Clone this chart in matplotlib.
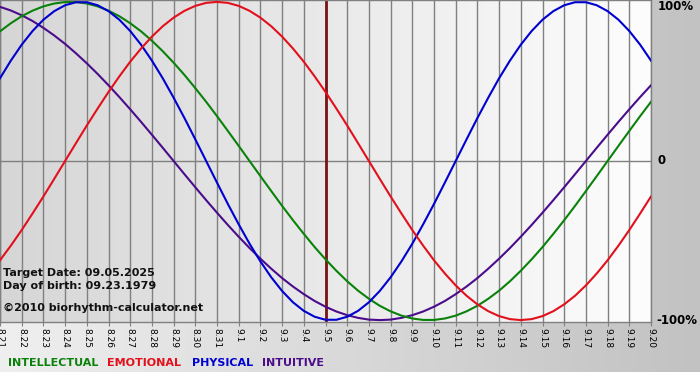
import numpy as np
import matplotlib
matplotlib.use("Agg")
import matplotlib.pyplot as plt
from matplotlib.colors import LinearSegmentedColormap

# Dates shown on the x axis (8.21 .. 9.20), target day is 9.5
dates = ['8.21', '8.22', '8.23', '8.24', '8.25', '8.26', '8.27', '8.28', '8.29', '8.30', '8.31',
         '9.1', '9.2', '9.3', '9.4', '9.5', '9.6', '9.7', '9.8', '9.9', '9.10',
         '9.11', '9.12', '9.13', '9.14', '9.15', '9.16', '9.17', '9.18', '9.19', '9.20']
target_idx = 15

# values (-1 .. 1) every half day, from 8.21 to 9.20
physical = [0.520, 0.631, 0.731, 0.817, 0.888, 0.942, 0.979, 0.998, 0.998, 0.979, 0.942,
            0.888, 0.817, 0.731, 0.631, 0.520, 0.398, 0.270, 0.136,
            0.0, -0.136, -0.270, -0.398, -0.520, -0.631, -0.731, -0.817, -0.888, -0.942, -0.979,
            -0.998, -0.998, -0.979, -0.942, -0.888, -0.817, -0.731, -0.631, -0.520, -0.398, -0.270, -0.136,
            0.0, 0.136, 0.270, 0.398, 0.520, 0.631, 0.731, 0.817, 0.888, 0.942, 0.979,
            0.998, 0.998, 0.979, 0.942, 0.888, 0.817, 0.731, 0.631]
emotional = [-0.624, -0.532, -0.434, -0.330, -0.223, -0.112,
             0.0, 0.112, 0.223, 0.330, 0.434, 0.532, 0.624, 0.707, 0.782, 0.847, 0.901, 0.944, 0.975, 0.994,
             1.0, 0.994, 0.975, 0.944, 0.901, 0.847, 0.782, 0.707, 0.624, 0.532, 0.434, 0.330, 0.223, 0.112,
             0.0, -0.112, -0.223, -0.330, -0.434, -0.532, -0.624, -0.707, -0.782, -0.847, -0.901, -0.944,
             -0.975, -0.994, -1.0, -0.994, -0.975, -0.944, -0.901, -0.847, -0.782, -0.707, -0.624, -0.532,
             -0.434, -0.330, -0.223]
intellectual = [0.815, 0.866, 0.910, 0.945, 0.972, 0.990, 0.999, 0.999, 0.990, 0.972, 0.945, 0.910,
                0.866, 0.815, 0.756, 0.690, 0.618, 0.541, 0.458, 0.372, 0.282, 0.189, 0.095,
                0.0, -0.095, -0.189, -0.282, -0.372, -0.458, -0.541, -0.618, -0.690, -0.756, -0.815,
                -0.866, -0.910, -0.945, -0.972, -0.990, -0.999, -0.999, -0.990, -0.972, -0.945, -0.910,
                -0.866, -0.815, -0.756, -0.690, -0.618, -0.541, -0.458, -0.372, -0.282, -0.189, -0.095,
                0.0, 0.095, 0.189, 0.282, 0.372]
intuitive = [0.969, 0.946, 0.916, 0.880, 0.837, 0.789, 0.736, 0.677, 0.614, 0.547, 0.476, 0.402,
             0.325, 0.246, 0.165, 0.083,
             0.0, -0.083, -0.165, -0.246, -0.325, -0.402, -0.476, -0.547, -0.614, -0.677, -0.736,
             -0.789, -0.837, -0.880, -0.916, -0.946, -0.969, -0.986, -0.997, -1.0, -0.997, -0.986,
             -0.969, -0.946, -0.916, -0.880, -0.837, -0.789, -0.736, -0.677, -0.614, -0.547, -0.476,
             -0.402, -0.325, -0.246, -0.165, -0.083,
             0.0, 0.083, 0.165, 0.246, 0.325, 0.402, 0.476]

series_names = ['INTELLECTUAL', 'EMOTIONAL', 'PHYSICAL', 'INTUITIVE']
colors = {'INTELLECTUAL': '#0a820a', 'EMOTIONAL': '#e3101c', 'PHYSICAL': '#0000d0', 'INTUITIVE': '#4b0c8c'}
series = {'INTELLECTUAL': intellectual, 'EMOTIONAL': emotional, 'PHYSICAL': physical, 'INTUITIVE': intuitive}

W, H = 700, 380
fig = plt.figure(figsize=(W / 100, H / 100), dpi=100)
fig.patch.set_facecolor('white')

# background band (horizontal gradient) behind everything
bg = fig.add_axes([0, 1 - 372 / H, 1, 372 / H])
bg.set_axis_off()
bg_cmap = LinearSegmentedColormap.from_list('bg', ['#efefef', '#c2c2c2'])
bg.imshow(np.linspace(0, 1, 256).reshape(1, -1), cmap=bg_cmap, aspect='auto', extent=[0, 1, 0, 1])
bg.set_xlim(0, 1)
bg.set_ylim(0, 1)

# main plot area
px_w, px_h = 651, 322
ax = fig.add_axes([0, 1 - px_h / H, px_w / W, px_h / H])
n = len(dates)
x = np.arange(n)
xs = np.linspace(0, n - 1, len(physical))  # half-day positions
ax.set_xlim(0, n - 1)
ax.set_ylim(-1.012, 1.012)

plot_cmap = LinearSegmentedColormap.from_list('plot', ['#d6d6d6', '#fdfdfd'])
ax.imshow(np.linspace(0, 1, 256).reshape(1, -1), cmap=plot_cmap, aspect='auto',
          extent=[0, n - 1, -1.012, 1.012], zorder=0)

for xi in x:
    ax.axvline(xi, color='#808080', lw=1, zorder=1)
ax.axhline(0, color='#808080', lw=1, zorder=1)
ax.axvline(target_idx, color='#7a1414', lw=2, zorder=2)

for name in ['INTUITIVE', 'INTELLECTUAL', 'PHYSICAL', 'EMOTIONAL']:
    ax.plot(xs, series[name], color=colors[name], lw=1.5, zorder=3)

for s in ax.spines.values():
    s.set_color('#808080')
    s.set_linewidth(1)

ax.set_yticks([])
ax.set_xticks(x)
ax.set_xticklabels(dates, rotation=270, fontsize=6.5)
ax.tick_params(axis='x', length=3, color='#808080', pad=1)

# y labels to the right
ytr = ax.get_yaxis_transform()
ax.text(1.01, 1.012, '100%', transform=ytr, ha='left', va='top', fontsize=8.5, fontweight='bold', clip_on=False)
ax.text(1.01, 0, '0', transform=ytr, ha='left', va='center', fontsize=8.5, fontweight='bold', clip_on=False)
ax.text(1.008, -1.0, '-100%', transform=ytr, ha='left', va='center', fontsize=8.5, fontweight='bold', clip_on=False)

# info text
info = [(276, 'Target Date: 09.05.2025'), (289, 'Day of birth: 09.23.1979'), (311, '\u00a92010 biorhythm-calculator.net')]
for yp, t in info:
    fig.text(3 / W, 1 - yp / H, t, fontsize=8, fontweight='bold', color='#111111', va='baseline')

# legend words
legend_x = [8, 107, 192, 262]
for name, lx in zip(series_names, legend_x):
    fig.text(lx / W, 1 - 366 / H, name, fontsize=8, fontweight='bold', color=colors[name], va='baseline')

fig.savefig('out.png', dpi=100)
